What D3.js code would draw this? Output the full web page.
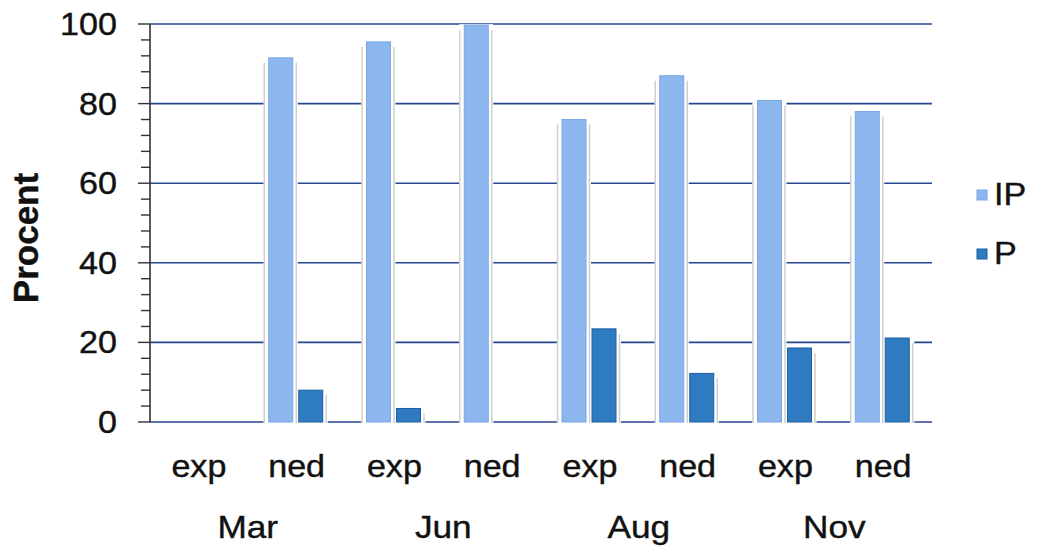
<!DOCTYPE html>
<html>
<head>
<meta charset="utf-8">
<script src="https://cdn.jsdelivr.net/npm/d3@7"></script>
<style>
  html, body { margin: 0; padding: 0; background: #fff; }
  svg { display: block; }
  text { font-family: "Liberation Sans", Arial, sans-serif; fill: #111; stroke: #111; stroke-width: 0.4px; }
</style>
</head>
<body>
<svg id="chart" width="1037" height="546"></svg>
<script>
// Survey months and sub-groups along the x axis
const months = ["Mar", "Jun", "Aug", "Nov"];
const subLabels = ["exp", "ned", "exp", "ned", "exp", "ned", "exp", "ned"];
const categories = ["Mar-exp", "Mar-ned", "Jun-exp", "Jun-ned", "Aug-exp", "Aug-ned", "Nov-exp", "Nov-ned"];

// Percentages per category
const seriesNames = ["IP", "P"];
const ipValues = [0, 91.5, 95.5, 99.7, 76, 87, 80.8, 78];
const pValues = [0, 8, 3.4, 0, 23.4, 12.2, 18.6, 21.1];

// Y axis ticks
const yTicks = [0, 20, 40, 60, 80, 100];
const yMinorTicks = d3.range(0, 101, 4);

const colors = { IP: "#8cb6ee", P: "#2e7bc1" };
const strokes = { IP: "#7aa6e2", P: "#1f5f9f" };

const svg = d3.select("#chart");
const plotLeft = 150, plotRight = 932, plotTop = 24, plotBottom = 422;

const x = d3.scaleBand().domain(categories).range([plotLeft, plotRight]).padding(0);
const inner = d3.scaleBand().domain(seriesNames).range([21, 75]).paddingInner(0.2);
const y = d3.scaleLinear().domain([0, 100]).range([plotBottom, plotTop]);

// Gridlines
svg.append("g").selectAll("line").data(yTicks).join("line")
  .attr("x1", plotLeft).attr("x2", plotRight)
  .attr("y1", d => y(d)).attr("y2", d => y(d))
  .attr("stroke", "#26468f").attr("stroke-width", 1.6);

// Bars data
const bars = [];
categories.forEach((c, i) => {
  [["IP", ipValues[i]], ["P", pValues[i]]].forEach(([s, v]) => {
    if (v > 0) bars.push({ cat: c, series: s, value: v });
  });
});

const bx = d => x(d.cat) + inner(d.series);
const bw = inner.bandwidth();

// Soft white backdrop with grey edge shadows around each bar
const back = svg.append("g");
back.selectAll("rect").data(bars).join("rect")
  .attr("x", d => bx(d) - 5)
  .attr("width", bw + 10)
  .attr("y", d => y(d.value) - 1)
  .attr("height", d => plotBottom + 2 - y(d.value) + 1)
  .attr("fill", "#fff");
back.selectAll("line.l").data(bars.filter(d => d.series === "IP")).join("line")
  .attr("class", "l")
  .attr("x1", d => bx(d) - 4.5).attr("x2", d => bx(d) - 4.5)
  .attr("y1", d => y(d.value) + 5).attr("y2", plotBottom + 1)
  .attr("stroke", "#cfcfcf").attr("stroke-width", 1.5);
back.selectAll("line.r").data(bars).join("line")
  .attr("class", "r")
  .attr("x1", d => bx(d) + bw + 3.5).attr("x2", d => bx(d) + bw + 3.5)
  .attr("y1", d => y(d.value) + 5).attr("y2", plotBottom + 1)
  .attr("stroke", "#cfcfcf").attr("stroke-width", 1.5);

// Bars
svg.append("g").selectAll("rect").data(bars).join("rect")
  .attr("x", d => bx(d))
  .attr("width", bw)
  .attr("y", d => y(d.value))
  .attr("height", d => plotBottom - y(d.value))
  .attr("fill", d => colors[d.series])
  .attr("stroke", d => strokes[d.series])
  .attr("stroke-width", 1);

// Y axis with major and minor ticks
const yAxis = svg.append("g").attr("transform", `translate(${plotLeft},0)`);
yAxis.append("line").attr("x1", 0).attr("x2", 0).attr("y1", plotTop).attr("y2", plotBottom)
  .attr("stroke", "#333").attr("stroke-width", 1.6);
yAxis.selectAll("line.minor").data(yMinorTicks).join("line")
  .attr("class", "minor")
  .attr("x1", d => yTicks.includes(d) ? -12 : -9).attr("x2", 0)
  .attr("y1", d => y(d)).attr("y2", d => y(d))
  .attr("stroke", "#333").attr("stroke-width", 1.4);
yAxis.selectAll("text").data(yTicks).join("text")
  .attr("transform", d => `translate(-33,${y(d) + 11}) scale(1.1,1)`)
  .attr("text-anchor", "end")
  .attr("font-size", 31)
  .text(d => d);

// Y axis title
svg.append("text")
  .attr("transform", `translate(38,238) rotate(-90)`)
  .attr("text-anchor", "middle")
  .attr("font-size", 35)
  .attr("font-weight", "bold")
  .text("Procent");

// Category labels
svg.append("g").selectAll("text").data(categories).join("text")
  .attr("transform", d => `translate(${x(d) + x.bandwidth() / 2},477) scale(1.1,1)`)
  .attr("text-anchor", "middle")
  .attr("font-size", 31)
  .text((d, i) => subLabels[i]);

// Month labels, centred under each pair
svg.append("g").selectAll("text").data(months).join("text")
  .attr("transform", (d, i) => `translate(${x(categories[2 * i]) + x.bandwidth()},538) scale(1.1,1)`)
  .attr("text-anchor", "middle")
  .attr("font-size", 32)
  .text(d => d);

// Legend
const legend = svg.append("g");
const legendY = { IP: 195, P: 254 };
seriesNames.forEach(s => {
  legend.append("rect")
    .attr("x", 977).attr("y", legendY[s] - 5)
    .attr("width", 10).attr("height", 10)
    .attr("fill", colors[s]).attr("stroke", strokes[s]).attr("stroke-width", 1);
  legend.append("text")
    .attr("transform", `translate(994,${legendY[s] + 10}) scale(1.1,1)`)
    .attr("font-size", 31)
    .text(s);
});
</script>
</body>
</html>
